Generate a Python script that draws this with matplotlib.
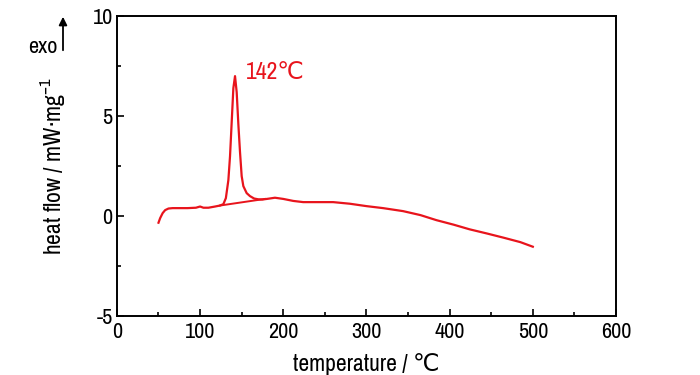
import matplotlib
matplotlib.use('Agg')
import matplotlib.pyplot as plt
from matplotlib import font_manager
from matplotlib.ticker import MultipleLocator

# DSC curve
temperature = [50, 52, 55, 58, 62, 67, 75, 85, 95, 100, 104, 110, 118, 124, 128,
               131, 134, 136, 138, 140, 142, 144, 146, 148, 150, 152, 156, 160,
               165, 170, 175, 182, 190, 200, 212, 224, 240, 260, 280, 300, 320,
               344, 365, 384, 405, 424, 445, 465, 485, 500]
heat_flow = [-0.33, -0.1, 0.15, 0.3, 0.38, 0.4, 0.4, 0.4, 0.42, 0.48, 0.42, 0.42,
             0.48, 0.53, 0.6, 0.9, 1.8, 3.0, 4.7, 6.4, 7.0, 6.2, 4.6, 3.2, 2.0,
             1.5, 1.15, 1.0, 0.88, 0.84, 0.83, 0.87, 0.92, 0.86, 0.76, 0.70,
             0.70, 0.70, 0.62, 0.50, 0.40, 0.25, 0.05, -0.2, -0.43, -0.66,
             -0.87, -1.08, -1.3, -1.53]

# integration baseline under the peak
base_t = [124, 178]
base_hf = [0.53, 0.86]

peak_label = '142℃'
red = '#e8141c'

# the original uses a narrow Arial-like face; use a condensed one if present
fonts = font_manager.fontManager.ttflist
narrow = [f for f in fonts if 'Narrow' in f.name or 'Condensed' in f.name]
cond_dejavu = [f for f in fonts if f.name == 'DejaVu Sans' and str(f.stretch) == 'condensed']
if narrow:
    fam = [narrow[0].name, 'DejaVu Sans']
    fs = 16
    stretch = 'normal'
elif cond_dejavu:
    fam = ['DejaVu Sans']
    fs = 14.5
    stretch = 'condensed'
else:
    fam = ['Liberation Sans', 'DejaVu Sans']
    fs = 14
    stretch = 'normal'

plt.rcParams['font.family'] = fam
plt.rcParams['font.stretch'] = stretch
plt.rcParams['axes.unicode_minus'] = False
plt.rcParams['mathtext.default'] = 'regular'

fig = plt.figure(figsize=(7, 3.75), dpi=100)
ax = fig.add_axes([0.167, 0.157, 0.713, 0.8])

ax.plot(temperature, heat_flow, color=red, lw=1.6)
ax.plot(base_t, base_hf, color=red, lw=1.4)
ax.text(155, 7.2, peak_label, color=red, fontsize=fs + 1, va='center', ha='left')

ax.set_xlim(0, 600)
ax.set_ylim(-5, 10)
ax.xaxis.set_major_locator(MultipleLocator(100))
ax.xaxis.set_minor_locator(MultipleLocator(50))
ax.yaxis.set_major_locator(MultipleLocator(5))
ax.yaxis.set_minor_locator(MultipleLocator(2.5))
ax.tick_params(which='both', direction='in', top=False, right=False, labelsize=fs)
ax.tick_params(axis='x', pad=4)
ax.tick_params(axis='y', pad=3)
ax.tick_params(which='major', length=5, width=1.2)
ax.tick_params(which='minor', length=3, width=1.2)
for s in ax.spines.values():
    s.set_linewidth(1.4)

ax.set_xlabel('temperature / ℃', fontsize=fs + 1, labelpad=8)
ax.set_ylabel('heat flow / mW·mg$^{-1}$', fontsize=fs + 1, labelpad=18)

# exo arrow
fig.patches.append(matplotlib.patches.FancyArrowPatch(
    (63 / 700, 1 - 53 / 375), (63 / 700, 1 - 14 / 375), transform=fig.transFigure,
    arrowstyle='-|>', mutation_scale=12, color='black', lw=1.3))
fig.text(58 / 700, 1 - 47 / 375, 'exo', fontsize=fs, ha='right', va='center')

fig.savefig('out.png', dpi=100)
